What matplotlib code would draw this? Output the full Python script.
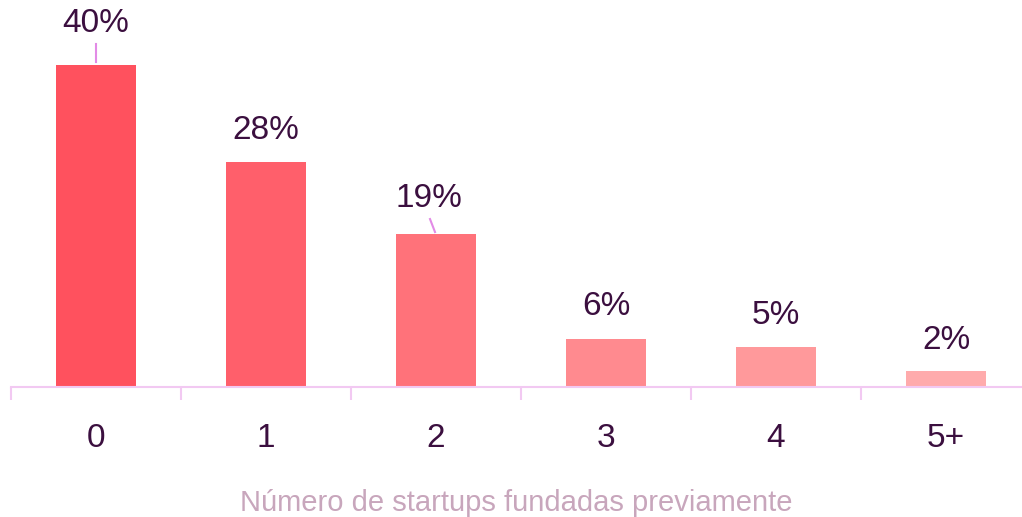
import matplotlib.pyplot as plt
import numpy as np

categories = ["0", "1", "2", "3", "4", "5+"]
shares = [40, 28, 19, 6, 5, 2]
labels = ["40%", "28%", "19%", "6%", "5%", "2%"]
bar_colors = ["#ff515e", "#ff5f6b", "#ff727a", "#ff8a8f", "#ff999b", "#ffabac"]

TEXT = "#3b0f3f"
AXIS = "#f2c9f2"
LEADER = "#e28be6"

plt.rcParams["font.family"] = ["Liberation Sans", "DejaVu Sans"]

fig = plt.figure(figsize=(10.22, 5.17), dpi=100)
ax = fig.add_axes([11 / 1022, 130 / 517, 1011 / 1022, 322 / 517])

x = np.arange(len(categories))
bars = ax.bar(x, shares, width=0.47, color=bar_colors)

# label offsets above each bar top (pixels)
offsets = [(0, 42), (0, 31), (-7, 36), (0, 32), (0, 31), (0, 30)]
for i, b in enumerate(bars):
    dx, dy = offsets[i]
    ax.annotate(labels[i], (b.get_x() + b.get_width() / 2, b.get_height()),
                xytext=(dx * 0.72, dy * 0.72), textcoords="offset points",
                ha="center", va="center", fontsize=24, color=TEXT,
                annotation_clip=False)

# small leader lines for 40% and 19%
ppu = 322 / 40
ax.plot([0, 0], [shares[0] + 3 / ppu, shares[0] + 21 / ppu], color=LEADER, lw=1.5, clip_on=False)
ax.plot([2 - 1 / 170, 2 - 6 / 170], [shares[2] + 2 / ppu, shares[2] + 15 / ppu],
        color=LEADER, lw=1.5, clip_on=False)

for s in ["top", "right", "left"]:
    ax.spines[s].set_visible(False)
ax.spines["bottom"].set_color(AXIS)
ax.spines["bottom"].set_linewidth(1.5)
ax.set_yticks([])

ax.set_xticks(np.arange(-0.5, 6, 1))
ax.set_xticklabels([])
ax.tick_params(axis="x", which="major", length=9, width=1.5, color=AXIS)
ax.set_xticks(x, minor=True)
ax.set_xticklabels(categories, minor=True)
ax.tick_params(axis="x", which="minor", length=0, pad=26, labelsize=24, labelcolor=TEXT)

ax.set_xlim(-0.5, 5.447)
ax.set_ylim(0, 40)

ax.set_xlabel("Número de startups fundadas previamente", fontsize=21, color="#c8a6bc",
              labelpad=25)

fig.savefig("out.png", dpi=100)
